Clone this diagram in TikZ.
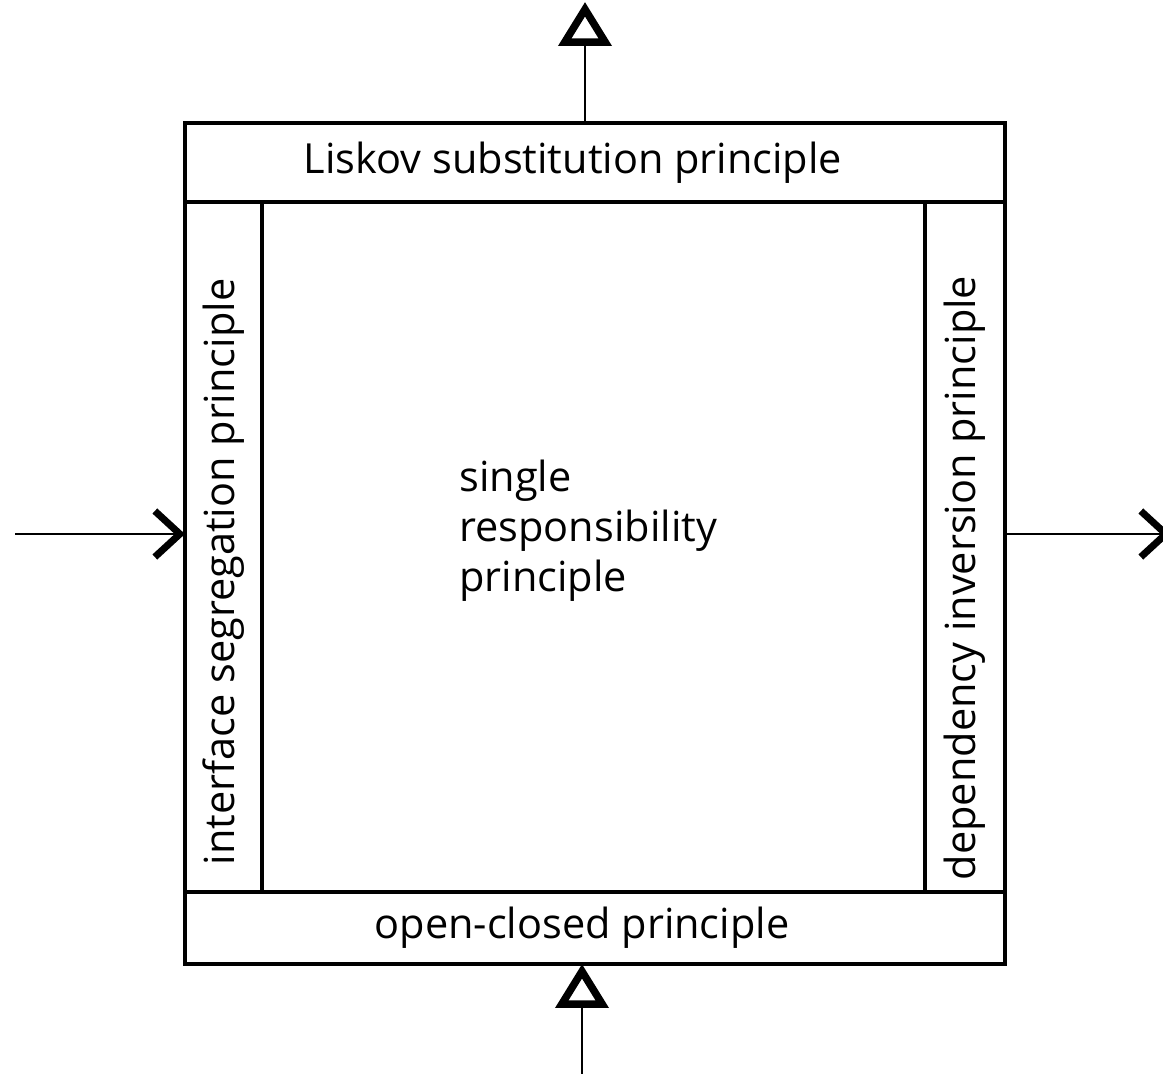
\documentclass[tikz,border=0pt]{standalone}
\usepackage{fontspec}
\setmainfont{Open Sans}
\usepackage{tikz}
\usetikzlibrary{arrows.meta,calc,positioning}
\definecolor{Ink}{HTML}{000000}

\begin{document}
\begin{tikzpicture}[x=0.02cm,y=-0.02cm,
    band/.style={draw=Ink,line width=0.09cm,inner sep=0pt,outer sep=0pt},
    lbl/.style={inner sep=0pt,font=\fontsize{23.6}{28.5}\selectfont},
    conn/.style={draw=Ink,line width=0.045cm},
    hollow/.style={-{Triangle[open,length=0.88cm,width=1.04cm,line width=0.15cm]}},
    barb/.style={-{Straight Barb[length=0.5cm,width=0.92cm,line width=0.14cm]}}]
        \useasboundingbox (0,0) rectangle (1163,1074);
        \node[band,minimum width=16.4cm,minimum height=1.58cm] (lsp) at (595,162.5) {};
        \node[band,minimum width=1.54cm,minimum height=13.8cm] (isp) at (223.5,547) {};
        \node[band,minimum width=1.6cm,minimum height=13.8cm] (dip) at (965,547) {};
        \node[band,minimum width=16.4cm,minimum height=1.44cm] (ocp) at (595,928) {};
        \node[lbl] (lsptext) at (573,163) {Liskov substitution principle};
        \node[lbl,rotate=90] (isptext) at (224,572) {interface segregation principle};
        \node[lbl,rotate=90] (diptext) at (965,578) {dependency inversion principle};
        \node[lbl] (ocptext) at (582,928) {open-closed principle};
        \node[lbl,anchor=west,align=left] (srp) at (459,531) {single\\responsibility\\principle};
        \coordinate (up) at (585,2);
        \coordinate (in) at (582,1080);
        \coordinate (feed) at (15,534);
        \coordinate (out) at (1171,534);
        \draw[conn,hollow] (lsp.north -| up) -- (up);
        \draw[conn,hollow] (in) -- (in |- ocp.south);
        \draw[conn,barb] (feed) -- (feed -| isp.west);
        \draw[conn,barb] (dip.east |- out) -- (out);
      \end{tikzpicture}
\end{document}
